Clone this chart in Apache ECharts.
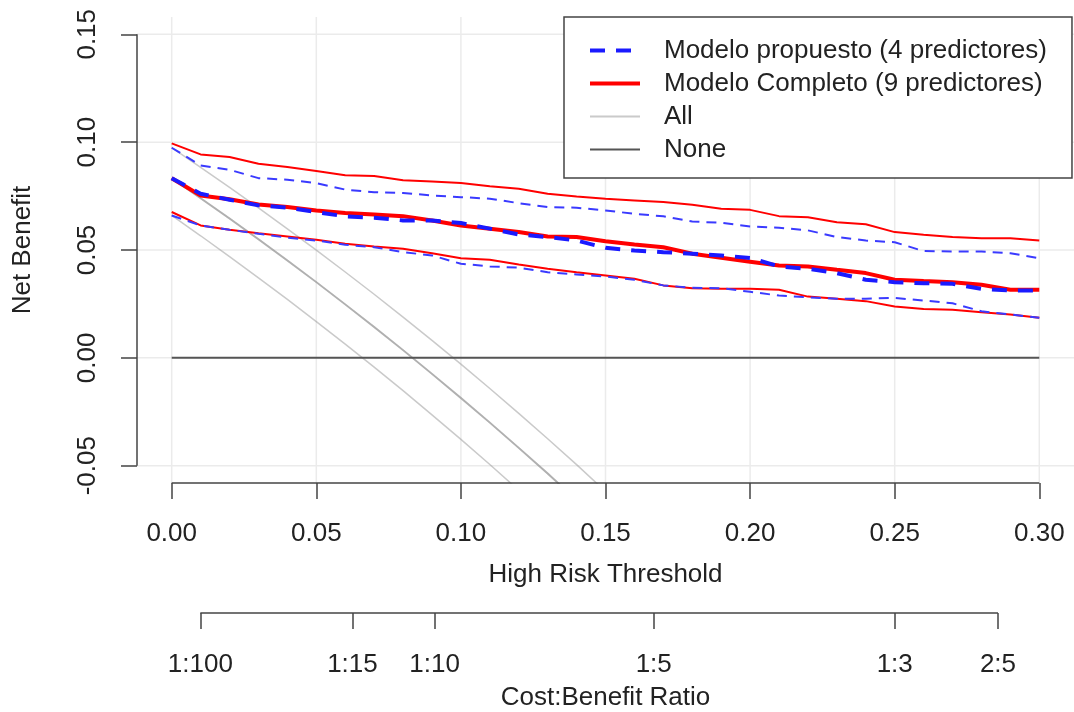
<!DOCTYPE html>
<html><head><meta charset="utf-8">
<script src="https://cdn.jsdelivr.net/npm/echarts@6/dist/echarts.min.js"></script>
<style>html,body{margin:0;padding:0;background:#fff}#c{width:1074px;height:712px}</style>
</head><body><div id="c"></div>
<script>
// ---------- data ----------
const thresholds = [0.00,0.01,0.02,0.03,0.04,0.05,0.06,0.07,0.08,0.09,0.10,0.11,0.12,0.13,0.14,0.15,0.16,0.17,0.18,0.19,0.20,0.21,0.22,0.23,0.24,0.25,0.26,0.27,0.28,0.29,0.30];
const propuestoNB   = [0.0833,0.0761,0.0733,0.0707,0.0696,0.0676,0.0656,0.0650,0.0637,0.0637,0.0625,0.0599,0.0572,0.0560,0.0544,0.0510,0.0498,0.0490,0.0483,0.0475,0.0463,0.0424,0.0413,0.0393,0.0362,0.0351,0.0346,0.0343,0.0320,0.0312,0.0312];
const propuestoLow  = [0.0660,0.0614,0.0594,0.0575,0.0557,0.0544,0.0524,0.0513,0.0490,0.0475,0.0436,0.0424,0.0418,0.0397,0.0387,0.0377,0.0362,0.0336,0.0325,0.0323,0.0306,0.0289,0.0281,0.0274,0.0274,0.0278,0.0266,0.0253,0.0216,0.0201,0.0186];
const propuestoHigh = [0.0974,0.0892,0.0872,0.0833,0.0826,0.0810,0.0780,0.0768,0.0764,0.0753,0.0745,0.0738,0.0717,0.0699,0.0696,0.0683,0.0668,0.0656,0.0632,0.0626,0.0609,0.0603,0.0591,0.0560,0.0544,0.0536,0.0495,0.0493,0.0493,0.0485,0.0462];
const completoNB    = [0.0833,0.0753,0.0735,0.0711,0.0699,0.0683,0.0671,0.0665,0.0657,0.0637,0.0614,0.0599,0.0583,0.0563,0.0560,0.0541,0.0526,0.0513,0.0483,0.0464,0.0446,0.0428,0.0424,0.0408,0.0393,0.0362,0.0356,0.0351,0.0339,0.0316,0.0316];
const completoLow   = [0.0676,0.0614,0.0594,0.0578,0.0563,0.0548,0.0529,0.0516,0.0506,0.0485,0.0462,0.0455,0.0433,0.0413,0.0397,0.0382,0.0367,0.0336,0.0323,0.0320,0.0320,0.0316,0.0284,0.0274,0.0263,0.0238,0.0227,0.0223,0.0212,0.0201,0.0186];
const completoHigh  = [0.0994,0.0943,0.0931,0.0900,0.0885,0.0866,0.0846,0.0843,0.0823,0.0818,0.0811,0.0795,0.0784,0.0761,0.0748,0.0738,0.0730,0.0722,0.0710,0.0691,0.0686,0.0657,0.0652,0.0629,0.0619,0.0583,0.0571,0.0560,0.0555,0.0555,0.0544];

const allThresholds = [0.00,0.01,0.02,0.03,0.04,0.05,0.06,0.07,0.08,0.09,0.10,0.11,0.12,0.13,0.14,0.15];
const allNB   = [0.0833,0.0740,0.0646,0.0550,0.0451,0.0351,0.0248,0.0143,0.0036,-0.0074,-0.0186,-0.0300,-0.0417,-0.0536,-0.0659,-0.0785];
const allLow  = [0.0660,0.0566,0.0469,0.0371,0.0271,0.0168,0.0064,-0.0043,-0.0152,-0.0264,-0.0378,-0.0494,-0.0614,-0.0736,-0.0860,-0.0988];
const allHigh = [0.0974,0.0883,0.0790,0.0695,0.0598,0.0499,0.0398,0.0295,0.0189,0.0081,-0.0029,-0.0142,-0.0257,-0.0375,-0.0495,-0.0619];

const noneThresholds = [0.00,0.30];
const noneNB = [0,0];

const xTicks = [0.00,0.05,0.10,0.15,0.20,0.25,0.30];
const yTicks = [-0.05,0.00,0.05,0.10,0.15];
const ratioLabels  = ['1:100','1:15','1:10','1:5','1:3','2:5'];
const ratioCost    = [1,1,1,1,1,2];
const ratioBenefit = [100,15,10,5,3,5];

const seriesNames = ['Modelo propuesto (4 predictores)','Modelo Completo (9 predictores)','All','None'];

// ---------- layout / style ----------
const FONT = 'Liberation Sans';
const FS = 26;
const TXT = '#222';
const AX = '#444';
const X_MIN = -0.012, X_MAX = 0.312, Y_MIN = -0.058, Y_MAX = 0.158;

const pairs = (xs, ys) => ys.map((v, i) => [xs[i], v]);
const ratioThr = ratioCost.map((c, i) => c / (c + ratioBenefit[i]));

function lineSeries(name, xs, ys, color, width, dash, z) {
  return {
    type: 'line', name, data: pairs(xs, ys), symbol: 'none', showSymbol: false,
    silent: true, animation: false, z: z,
    lineStyle: { color, width, type: dash || 'solid' },
    itemStyle: { color },
    xAxisIndex: 0, yAxisIndex: 0
  };
}
function segment(name, data, color, width, z, xi, yi) {
  return {
    type: 'line', name, data, symbol: 'none', showSymbol: false, clip: false,
    silent: true, animation: false, z: z,
    lineStyle: { color, width }, xAxisIndex: xi || 0, yAxisIndex: yi || 0
  };
}

const gridSeries = xTicks.map((v, i) => segment('_gx' + i, [[v, Y_MIN], [v, Y_MAX]], '#ebebeb', 1.5, 0))
  .concat(yTicks.map((v, i) => segment('_gy' + i, [[X_MIN, v], [X_MAX, v]], '#ebebeb', 1.5, 0)));

const series = gridSeries.concat([
  lineSeries('_allLow', allThresholds, allLow, 'rgba(150,150,150,0.5)', 1.5, null, 1),
  lineSeries('_allHigh', allThresholds, allHigh, 'rgba(150,150,150,0.5)', 1.5, null, 1),
  lineSeries('All', allThresholds, allNB, 'rgba(150,150,150,0.5)', 1.8, null, 1),
  lineSeries('_all2', allThresholds, allNB, 'rgba(150,150,150,0.5)', 1.8, null, 1),
  lineSeries('None', noneThresholds, noneNB, '#555555', 2, null, 2),
  lineSeries('_compLow', thresholds, completoLow, '#ff0000', 2, null, 3),
  lineSeries('_compHigh', thresholds, completoHigh, '#ff0000', 2, null, 3),
  lineSeries(seriesNames[1], thresholds, completoNB, '#ff0000', 4, null, 3),
  lineSeries('_propLow', thresholds, propuestoLow, '#3a3aff', 2, [10, 7], 4),
  lineSeries('_propHigh', thresholds, propuestoHigh, '#3a3aff', 2, [10, 7], 4),
  lineSeries(seriesNames[0], thresholds, propuestoNB, '#1a1aff', 4, [15, 11], 4),
  // axis lines (R style: only between extreme ticks)
  segment('_xaxis', [[xTicks[0], Y_MIN], [xTicks[xTicks.length - 1], Y_MIN]], AX, 1.5, 5),
  segment('_yaxis', [[X_MIN, yTicks[0]], [X_MIN, yTicks[yTicks.length - 1]]], AX, 1.5, 5),
  segment('_ratioaxis', [[ratioThr[0], 0], [ratioThr[ratioThr.length - 1], 0]], AX, 1.5, 5, 1, 1)
]);

const labelStyle = { fontFamily: FONT, fontSize: FS, color: TXT };

const option = {
  backgroundColor: '#fff',
  animation: false,
  grid: [
    { left: 137, right: 0, top: 17, bottom: 229 },
    { left: 137, right: 0, top: 600, height: 13 }
  ],
  xAxis: [
    {
      type: 'value', gridIndex: 0, min: X_MIN, max: X_MAX, position: 'bottom',
      axisLine: { show: false, onZero: false }, splitLine: { show: false },
      axisTick: { show: true, customValues: xTicks, length: 16, lineStyle: { color: AX, width: 1.5 } },
      axisLabel: Object.assign({ customValues: xTicks, margin: 38, formatter: v => v.toFixed(2) }, labelStyle)
    },
    {
      type: 'value', gridIndex: 1, min: X_MIN, max: X_MAX, position: 'bottom',
      axisLine: { show: false, onZero: false }, splitLine: { show: false },
      axisTick: { show: true, customValues: ratioThr, length: 16, lineStyle: { color: AX, width: 1.5 } },
      axisLabel: Object.assign({
        customValues: ratioThr, margin: 39,
        formatter: v => { const i = ratioThr.findIndex(t => Math.abs(t - v) < 1e-9); return i >= 0 ? ratioLabels[i] : ''; }
      }, labelStyle)
    }
  ],
  yAxis: [
    {
      type: 'value', gridIndex: 0, min: Y_MIN, max: Y_MAX, position: 'left',
      axisLine: { show: false, onZero: false }, splitLine: { show: false },
      axisTick: { show: true, customValues: yTicks, length: 16, lineStyle: { color: AX, width: 1.5 } },
      axisLabel: Object.assign({ customValues: yTicks, margin: 36, rotate: 90, formatter: v => v.toFixed(2) }, labelStyle)
    },
    {
      type: 'value', gridIndex: 1, min: 0, max: 1, show: false
    }
  ],
  legend: {
    orient: 'vertical', left: 564, top: 17, z: 10,
    padding: [17, 25, 12, 24], itemGap: 0, itemWidth: 50, itemHeight: 14,
    backgroundColor: '#fff', borderColor: AX, borderWidth: 1.5, borderRadius: 0,
    selectedMode: false,
    itemStyle: { opacity: 0 },
    lineStyle: { width: 'inherit' },
    textStyle: { fontFamily: FONT, fontSize: FS, color: TXT, lineHeight: 33, padding: [0, 0, 0, 19] },
    data: seriesNames
  },
  graphic: [
    { type: 'text', x: 605.5, y: 575, silent: true,
      style: { text: 'High Risk Threshold', font: FS + 'px ' + FONT, fill: TXT, textAlign: 'center', textVerticalAlign: 'middle' } },
    { type: 'text', x: 605.5, y: 698, silent: true,
      style: { text: 'Cost:Benefit Ratio', font: FS + 'px ' + FONT, fill: TXT, textAlign: 'center', textVerticalAlign: 'middle' } },
    { type: 'text', x: 23, y: 250, rotation: Math.PI / 2, silent: true,
      style: { text: 'Net Benefit', font: FS + 'px ' + FONT, fill: TXT, textAlign: 'center', textVerticalAlign: 'middle' } }
  ],
  series: series
};

const chart = echarts.init(document.getElementById('c'), null, { renderer: 'canvas' });
chart.setOption(option);
</script>
</body></html>
